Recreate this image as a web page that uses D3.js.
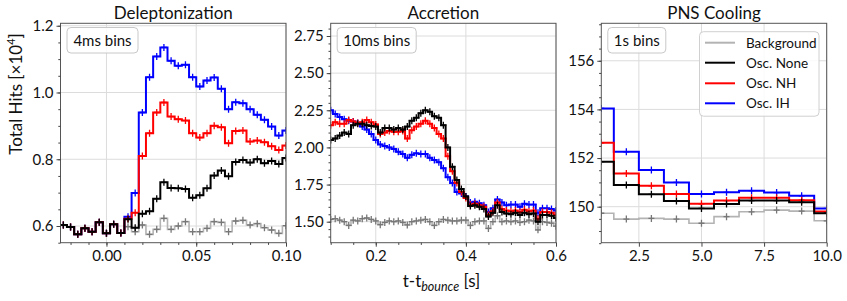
<!DOCTYPE html>
<html><head><meta charset="utf-8">
<script src="https://cdn.jsdelivr.net/npm/d3@7"></script>
<style>
body{margin:0;background:#fff}
text{font-family:Lato,"Open Sans",sans-serif;fill:#111}
</style></head>
<body>
<svg id="c" width="847" height="301"></svg>
<script>
// ---------- DATA ----------
// Panel 1: Deleptonization, 4 ms bins (bin centres in s)
const t1 = [-0.024,-0.020,-0.016,-0.012,-0.008,-0.004,0.000,0.004,0.008,0.012,0.016,0.020,0.024,0.028,0.032,0.036,
            0.040,0.044,0.048,0.052,0.056,0.060,0.064,0.068,0.072,0.076,0.080,0.084,0.088,0.092,0.096,0.100];
const bg1   = [0.603,0.597,0.575,0.593,0.583,0.611,0.578,0.605,0.579,0.598,0.583,0.603,0.575,0.590,0.623,0.590,
               0.600,0.613,0.583,0.583,0.593,0.613,0.611,0.583,0.615,0.617,0.603,0.607,0.595,0.588,0.578,0.601];
const none1 = [0.603,0.597,0.575,0.593,0.583,0.611,0.578,0.605,0.579,0.620,0.595,0.637,0.644,0.682,0.731,0.714,
               0.713,0.711,0.685,0.692,0.713,0.751,0.766,0.749,0.792,0.798,0.790,0.800,0.788,0.795,0.786,0.804];
const nh1   = [0.603,0.597,0.575,0.593,0.583,0.611,0.578,0.605,0.579,0.622,0.640,0.810,0.878,0.940,0.970,0.928,
               0.920,0.916,0.878,0.865,0.878,0.900,0.896,0.848,0.885,0.886,0.853,0.856,0.851,0.839,0.828,0.841];
const ih1   = [0.603,0.597,0.575,0.593,0.583,0.611,0.578,0.605,0.579,0.628,0.699,0.940,1.046,1.108,1.135,1.095,
               1.080,1.083,1.046,1.018,1.036,1.045,1.011,0.950,0.971,0.968,0.950,0.933,0.918,0.898,0.871,0.886];

// Panel 2: Accretion, 10 ms bins
const t2 = [0.10,0.11,0.12,0.13,0.14,0.15,0.16,0.17,0.18,0.19,0.20,0.21,0.22,0.23,0.24,0.25,0.26,0.27,0.28,0.29,
            0.30,0.31,0.32,0.33,0.34,0.35,0.36,0.37,0.38,0.39,0.40,0.41,0.42,0.43,0.44,0.45,0.46,0.47,0.48,0.49,
            0.50,0.51,0.52,0.53,0.54,0.55,0.56,0.57,0.58,0.59,0.60];
const bg2   = [1.515,1.520,1.510,1.500,1.475,1.510,1.505,1.520,1.525,1.515,1.505,1.480,1.495,1.505,1.500,1.505,1.495,1.478,1.500,1.505,
               1.510,1.515,1.500,1.475,1.500,1.515,1.510,1.505,1.505,1.510,1.510,1.475,1.500,1.505,1.505,1.455,1.500,1.540,1.500,1.505,
               1.500,1.505,1.495,1.500,1.510,1.505,1.445,1.500,1.495,1.490,1.470];
const none2 = [2.050,2.060,2.080,2.100,2.090,2.150,2.160,2.160,2.150,2.145,2.140,2.100,2.130,2.130,2.120,2.130,2.120,2.140,2.180,2.200,
               2.230,2.250,2.240,2.210,2.200,2.150,2.000,1.870,1.780,1.720,1.670,1.605,1.610,1.600,1.585,1.535,1.560,1.610,1.565,1.555,
               1.550,1.560,1.545,1.560,1.550,1.555,1.500,1.545,1.545,1.540,1.525];
const nh2   = [2.150,2.170,2.160,2.160,2.185,2.175,2.165,2.170,2.185,2.170,2.155,2.090,2.100,2.110,2.105,2.105,2.110,2.060,2.115,2.140,
               2.160,2.180,2.160,2.130,2.090,2.060,1.940,1.840,1.760,1.700,1.660,1.615,1.620,1.610,1.600,1.545,1.570,1.630,1.585,1.575,
               1.570,1.575,1.565,1.580,1.570,1.575,1.520,1.565,1.565,1.560,1.545];
const ih2   = [2.250,2.225,2.205,2.190,2.180,2.175,2.165,2.140,2.120,2.090,2.050,2.020,2.010,2.000,1.990,1.970,1.955,1.930,1.950,1.960,
               1.955,1.955,1.930,1.915,1.900,1.860,1.800,1.760,1.700,1.690,1.670,1.630,1.635,1.625,1.610,1.565,1.590,1.650,1.630,1.610,
               1.615,1.615,1.600,1.620,1.615,1.615,1.560,1.590,1.590,1.585,1.575];

// Panel 3: PNS Cooling, 1 s bins
const t3 = [1,2,3,4,5,6,7,8,9,10];
const bg3   = [149.73,149.49,149.52,149.49,149.32,149.59,149.79,149.86,149.82,149.42];
const none3 = [151.85,150.89,150.51,150.23,149.93,150.11,150.25,150.25,150.18,149.73];
const nh3   = [152.63,151.37,150.86,150.52,150.12,150.25,150.37,150.37,150.27,149.80];
const ih3   = [154.04,152.26,151.51,151.00,150.52,150.59,150.66,150.58,150.45,149.93];

const seriesNames = ["Background","Osc. None","Osc. NH","Osc. IH"];
const seriesColors = ["#b3b3b3","#000000","#ff0000","#0000ff"];

// tick labels
const p1xTicks = [0.00,0.05,0.10], p1xLabels = ["0.00","0.05","0.10"];
const p1yTicks = [0.6,0.8,1.0,1.2], p1yLabels = ["0.6","0.8","1.0","1.2"];
const p2xTicks = [0.2,0.4,0.6], p2xLabels = ["0.2","0.4","0.6"];
const p2yTicks = [1.50,1.75,2.00,2.25,2.50,2.75], p2yLabels = ["1.50","1.75","2.00","2.25","2.50","2.75"];
const p3xTicks = [2.5,5.0,7.5,10.0], p3xLabels = ["2.5","5.0","7.5","10.0"];
const p3yTicks = [150,152,154,156], p3yLabels = ["150","152","154","156"];

// ---------- DRAW ----------
const svg = d3.select("#c");
const yTop = 23.3, yBot = 242.7;

const panels = [
  {title:"Deleptonization", box:"4ms bins", x0:60.5, x1:286, xd:[-0.0256,0.1], yd:[0.55,1.2073],
   t:t1, w:0.004, data:[bg1,none1,nh1,ih1], xt:p1xTicks, xl:p1xLabels, yt:p1yTicks, yl:p1yLabels,
   xminor:d3.range(-0.02,0.1001,0.01), yminor:d3.range(0.55,1.2001,0.05), boxW:71},
  {title:"Accretion", box:"10ms bins", x0:330.7, x1:556, xd:[0.1,0.6], yd:[1.3586,2.8355],
   t:t2, w:0.01, data:[bg2,none2,nh2,ih2], xt:p2xTicks, xl:p2xLabels, yt:p2yTicks, yl:p2yLabels,
   xminor:d3.range(0.1,0.6001,0.05), yminor:d3.range(1.4,2.8001,0.05), boxW:79},
  {title:"PNS Cooling", box:"1s bins", x0:601.3, x1:826.7, xd:[1,10], yd:[148.52,157.54],
   t:t3, w:1, data:[bg3,none3,nh3,ih3], xt:p3xTicks, xl:p3xLabels, yt:p3yTicks, yl:p3yLabels,
   xminor:[], yminor:d3.range(148.5,157.51,0.5), boxW:58}
];

const drawOrder = [0,3,2,1]; // background, IH, NH, None on top

panels.forEach((p,pi) => {
  const x = d3.scaleLinear().domain(p.xd).range([p.x0,p.x1]);
  const y = d3.scaleLinear().domain(p.yd).range([yBot,yTop]);
  const g = svg.append("g");
  const clipId = "clip"+pi;
  svg.append("clipPath").attr("id",clipId).append("rect")
     .attr("x",p.x0).attr("y",yTop).attr("width",p.x1-p.x0).attr("height",yBot-yTop);

  // grid
  g.append("g").selectAll("line").data(p.xt).join("line")
    .attr("x1",d=>x(d)).attr("x2",d=>x(d)).attr("y1",yTop).attr("y2",yBot)
    .attr("stroke","#dcdcdc").attr("stroke-width",1);
  g.append("g").selectAll("line").data(p.yt).join("line")
    .attr("x1",p.x0).attr("x2",p.x1).attr("y1",d=>y(d)).attr("y2",d=>y(d))
    .attr("stroke","#dcdcdc").attr("stroke-width",1);

  const plot = g.append("g").attr("clip-path",`url(#${clipId})`);
  const line = d3.line().x(d=>x(d[0])).y(d=>y(d[1]));
  drawOrder.forEach(si => {
    const vals = p.data[si];
    const pts = [];
    p.t.forEach((c,i) => { pts.push([c-p.w/2, vals[i]]); pts.push([c+p.w/2, vals[i]]); });
    plot.append("path").attr("d",line(pts)).attr("fill","none")
      .attr("stroke",seriesColors[si]).attr("stroke-width", si===0?1.6:2)
      .attr("stroke-linejoin","miter");
    const mc = si===0 ? "#777" : seriesColors[si];
    const mk = plot.append("g").selectAll("g").data(p.t.map((c,i)=>[c,vals[i]])).join("g")
      .attr("transform",d=>`translate(${x(d[0])},${y(d[1])})`);
    mk.append("line").attr("x1",-3).attr("x2",3).attr("y1",0).attr("y2",0)
      .attr("stroke",mc).attr("stroke-width",1.3);
    mk.append("line").attr("x1",0).attr("x2",0).attr("y1",-3.5).attr("y2",3.5)
      .attr("stroke",mc).attr("stroke-width",1.3);
  });

  // frame
  g.append("rect").attr("x",p.x0).attr("y",yTop).attr("width",p.x1-p.x0).attr("height",yBot-yTop)
    .attr("fill","none").attr("stroke","#555").attr("stroke-width",1);

  // axes
  const ax = g.append("g").attr("transform",`translate(0,${yBot})`)
    .call(d3.axisBottom(x).tickValues(p.xt).tickFormat((d,i)=>p.xl[i]).tickSize(4).tickPadding(4));
  const axm = g.append("g").attr("transform",`translate(0,${yBot})`)
    .call(d3.axisBottom(x).tickValues(p.xminor).tickFormat("").tickSize(2.2));
  const ay = g.append("g").attr("transform",`translate(${p.x0},0)`)
    .call(d3.axisLeft(y).tickValues(p.yt).tickFormat((d,i)=>p.yl[i]).tickSize(4).tickPadding(3));
  const aym = g.append("g").attr("transform",`translate(${p.x0},0)`)
    .call(d3.axisLeft(y).tickValues(p.yminor).tickFormat("").tickSize(2.2));
  [ax,axm,ay,aym].forEach(a => { a.select(".domain").remove(); a.selectAll("line").attr("stroke","#444"); });
  [ax,ay].forEach(a => a.selectAll("text").attr("font-size",15).attr("fill","#111").style("font-family","Lato"));

  // title
  g.append("text").attr("x",(p.x0+p.x1)/2).attr("y",19).attr("text-anchor","middle")
    .attr("font-size",17).text(p.title);

  // bins box
  const bx = p.x0+6.5, by = 27.5;
  g.append("rect").attr("x",bx).attr("y",by).attr("width",p.boxW).attr("height",25.5).attr("rx",4)
    .attr("fill","#fff").attr("fill-opacity",0.85).attr("stroke","#c8c8c8").attr("stroke-width",1);
  g.append("text").attr("x",bx+p.boxW/2).attr("y",by+18).attr("text-anchor","middle")
    .attr("font-size",15).text(p.box);
});

// legend (panel 3)
const lg = svg.append("g");
lg.append("rect").attr("x",699.5).attr("y",31.7).attr("width",119.5).attr("height",84.5).attr("rx",4)
  .attr("fill","#fff").attr("fill-opacity",0.85).attr("stroke","#d0d0d0");
const rowsY = [42.7,62.7,83.3,103.3];
seriesNames.forEach((n,i) => {
  lg.append("line").attr("x1",705).attr("x2",735).attr("y1",rowsY[i]).attr("y2",rowsY[i])
    .attr("stroke",seriesColors[i]).attr("stroke-width",2);
  lg.append("text").attr("x",746).attr("y",rowsY[i]+5).attr("font-size",13.5).text(n);
});

// axis labels
const yl = svg.append("text").attr("transform","translate(22,94) rotate(-90)").attr("text-anchor","middle")
  .attr("font-size",17);
yl.append("tspan").text("Total Hits [×10");
yl.append("tspan").attr("font-size",11).attr("dy",-7).text("4");
yl.append("tspan").attr("dy",7).text("]");

const xl = svg.append("text").attr("x",441.5).attr("y",287).attr("text-anchor","middle").attr("font-size",17);
xl.append("tspan").text("t-t");
xl.append("tspan").attr("font-size",12.5).attr("font-style","italic").attr("dy",3.5).text("bounce");
xl.append("tspan").attr("dy",-3.5).text(" [s]");
</script>
</body></html>
